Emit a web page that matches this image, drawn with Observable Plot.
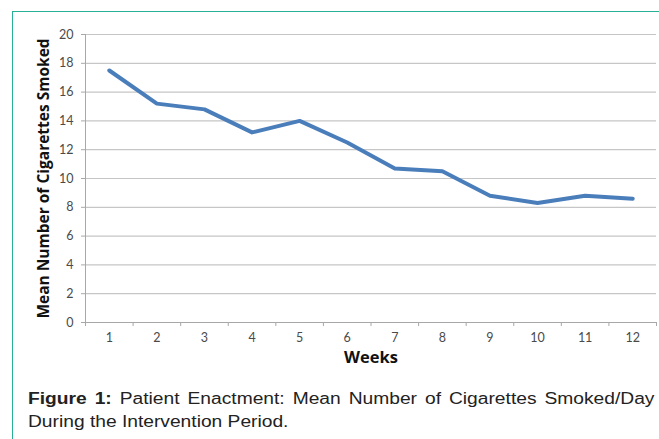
<!DOCTYPE html>
<html>
<head>
<meta charset="utf-8">
<script src="https://cdn.jsdelivr.net/npm/d3@7"></script>
<script src="https://cdn.jsdelivr.net/npm/@observablehq/plot@0.6"></script>
<style>
  html, body { margin: 0; padding: 0; background: #fff; }
  #wrap { position: relative; width: 659px; height: 439px; overflow: hidden; background: #fff; }
  #border { position: absolute; left: 12px; top: 11px; right: -2px; bottom: -2px;
            border-left: 1px solid #27b095; border-top: 1px solid #27b095; }
  #chart { position: absolute; left: 0; top: 0; }
  #caption { position: absolute; left: 28px; top: 387px; width: 522px;
             transform: scaleX(1.2); transform-origin: left top;
             font-family: "Liberation Sans", Arial, sans-serif; font-size: 16px;
             line-height: 23px; color: #222; }
  #caption .l1 { text-align: justify; text-align-last: justify; }
</style>
</head>
<body>
<div id="wrap">
  <div id="border"></div>
  <div id="chart"></div>
  <div id="caption">
    <div class="l1"><b>Figure 1:</b> Patient Enactment: Mean Number of Cigarettes Smoked/Day</div>
    <div>During the Intervention Period.</div>
  </div>
</div>
<script>
const weeks = [1, 2, 3, 4, 5, 6, 7, 8, 9, 10, 11, 12];
const cigarettes = [17.5, 15.2, 14.8, 13.2, 14.0, 12.5, 10.7, 10.5, 8.8, 8.3, 8.8, 8.6];
const yTicks = [0, 2, 4, 6, 8, 10, 12, 14, 16, 18, 20];
const xLabel = "Weeks";
const yLabel = "Mean Number of Cigarettes Smoked";

const boundaries = weeks.map(w => w - 0.5).concat([weeks[weeks.length - 1] + 0.5]);

const chart = Plot.plot({
  width: 659,
  height: 380,
  marginLeft: 85,
  marginRight: 3,
  marginTop: 34,
  marginBottom: 58,
  x: { domain: [boundaries[0], boundaries[boundaries.length - 1]] },
  y: { domain: [0, 20] },
  style: { fontFamily: "Lato, 'Open Sans', sans-serif", fontSize: "12px", color: "#4a4a4a", background: "transparent", overflow: "visible" },
  marks: [
    Plot.gridY(yTicks, { stroke: "#c6c6c6", strokeOpacity: 1, strokeWidth: 1.2 }),
    Plot.frame({ anchor: "left", stroke: "#a8a8a8" }),
    Plot.frame({ anchor: "bottom", stroke: "#a8a8a8" }),
    Plot.axisY(yTicks, { tickSize: 4, tickPadding: 8, stroke: "#a8a8a8", label: null, fill: "#4a4a4a", fontSize: 12.5 }),
    Plot.axisY({ ticks: [], label: yLabel, labelAnchor: "center", labelArrow: "none", labelOffset: 48,
                 fontSize: 15.5, fontWeight: "bold", fill: "#111", fontFamily: "'Open Sans', sans-serif" }),
    Plot.axisX(boundaries, { tickSize: 4, tickFormat: () => "", stroke: "#a8a8a8", label: null }),
    Plot.axisX(weeks, { tickSize: 0, tickPadding: 11, label: null, fill: "#4a4a4a", fontSize: 12.5 }),
    Plot.axisX({ ticks: [], label: xLabel, labelAnchor: "center", labelArrow: "none", labelOffset: 40,
                 fontSize: 16.5, fontWeight: "bold", fill: "#111", fontFamily: "'Open Sans', sans-serif" }),
    Plot.line(cigarettes, { x: (d, i) => weeks[i], y: d => d, stroke: "#4a7ebb", strokeWidth: 4 })
  ]
});
document.getElementById("chart").appendChild(chart);
</script>
</body>
</html>
